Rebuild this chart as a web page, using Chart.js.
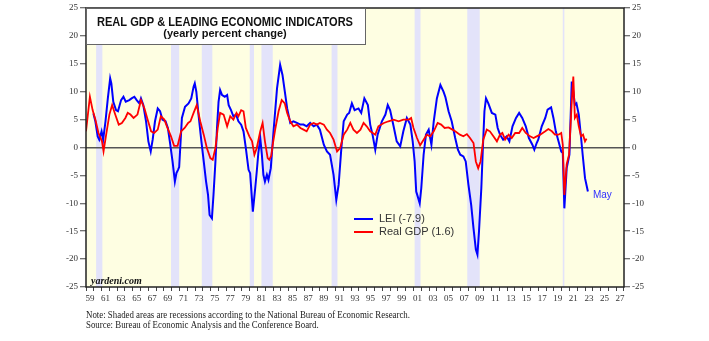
<!DOCTYPE html>
<html>
<head>
<meta charset="utf-8">
<script src="https://cdn.jsdelivr.net/npm/chart.js@4.4.0/dist/chart.umd.min.js"></script>
<style>
  html, body { margin: 0; padding: 0; background: #fff; }
  #wrap { width: 709px; height: 341px; position: relative; }
</style>
</head>
<body>
<div id="wrap"><canvas id="chart" width="709" height="341"></canvas></div>
<script>
// LEI, yearly % change
const leiYears = [1959.95,1960.2,1960.5,1960.7,1961.0,1961.2,1961.5,1961.8,1962.1,1962.25,1962.5,1962.85,1963.1,1963.5,1963.8,1964.1,1964.55,1964.85,1965.2,1965.5,1965.85,1966.05,1966.35,1966.7,1967.0,1967.3,1967.55,1967.85,1968.2,1968.5,1968.8,1969.2,1969.5,1969.75,1970.1,1970.4,1970.6,1970.8,1970.95,1971.1,1971.3,1971.7,1972.15,1972.5,1972.8,1972.95,1973.15,1973.45,1973.8,1974.1,1974.4,1974.65,1974.85,1975.15,1975.35,1975.6,1975.8,1976.0,1976.2,1976.45,1976.8,1977.1,1977.3,1977.6,1977.9,1978.25,1978.55,1978.9,1979.2,1979.5,1979.85,1980.05,1980.4,1980.7,1980.9,1981.1,1981.35,1981.55,1981.75,1981.95,1982.2,1982.4,1982.7,1983.05,1983.5,1983.9,1984.2,1984.5,1984.8,1985.2,1985.6,1986.05,1986.5,1986.9,1987.3,1987.75,1988.2,1988.6,1989.0,1989.5,1989.9,1990.3,1990.75,1991.1,1991.4,1991.75,1992.05,1992.5,1992.75,1993.1,1993.45,1993.95,1994.3,1994.7,1995.15,1995.45,1995.75,1996.1,1996.4,1996.95,1997.4,1997.7,1998.0,1998.45,1998.85,1999.3,1999.7,2000.15,2000.6,2000.9,2001.15,2001.35,2001.55,2001.8,2002.0,2002.3,2002.6,2002.95,2003.3,2003.6,2004.0,2004.45,2004.85,2005.1,2005.5,2005.9,2006.35,2006.7,2007.0,2007.4,2007.7,2008.05,2008.4,2008.7,2009.0,2009.2,2009.4,2009.7,2009.9,2010.1,2010.3,2010.6,2011.05,2011.5,2011.8,2012.1,2012.5,2012.95,2013.3,2013.7,2014.15,2014.55,2014.95,2015.4,2015.8,2016.25,2016.5,2016.8,2017.0,2017.45,2017.9,2018.2,2018.65,2018.95,2019.25,2019.6,2019.95,2020.15,2020.35,2020.65,2021.0,2021.3,2021.5,2021.7,2021.9,2022.2,2022.5,2022.7,2023.0,2023.37];
const leiValues = [6.1,4.7,2.0,1.4,2.9,1.4,4.7,8.8,12.4,11.5,8.2,6.7,6.5,8.5,9.1,8.2,8.5,8.8,9.1,8.5,7.9,8.8,7.6,4.7,1.1,-0.7,1.4,4.7,7.0,6.5,5.0,4.7,3.5,1.1,-2.5,-6.1,-4.6,-4.0,-3.5,0.3,5.3,7.3,7.9,8.8,10.9,11.5,10.0,5.6,1.1,-2.5,-6.1,-8.5,-12.1,-12.7,-8.5,-2.5,3.5,8.2,10.3,9.4,9.1,9.4,7.6,6.7,5.6,5.9,4.7,4.1,2.9,-0.1,-4.0,-4.6,-11.5,-7.3,-4.3,-1.0,1.7,-1.2,-4.9,-6.1,-4.9,-5.8,-3.7,2.9,10.6,14.8,13.0,10.0,7.0,4.4,4.7,4.4,4.1,4.1,3.8,4.4,3.8,4.1,3.2,0.5,-0.7,-1.3,-4.9,-9.4,-6.7,-0.1,4.7,5.9,6.2,7.9,6.7,7.0,6.2,8.8,7.6,4.1,2.3,-0.4,2.3,4.7,5.9,7.6,6.7,3.8,1.1,0.2,2.9,5.3,4.1,1.1,-2.5,-7.9,-8.8,-10.0,-7.3,-1.3,2.3,3.2,0.5,4.7,8.8,11.2,10.0,9.0,6.5,4.7,1.7,-0.4,-1.3,-1.6,-2.5,-6.7,-10.3,-14.5,-18.3,-19.2,-15.1,-7.3,-0.1,6.5,8.8,7.9,6.2,5.9,3.5,2.3,1.4,2.0,1.1,3.8,5.3,6.2,5.3,3.8,1.7,0.5,-0.4,0.8,1.4,3.8,5.3,6.8,7.2,5.3,2.9,1.1,-0.7,-1.0,-10.9,-3.7,-1.3,11.8,10.0,7.6,7.9,5.9,1.7,-1.3,-5.5,-7.9];

// Real GDP, yearly % change
const gdpYears = [1959.0,1959.5,1959.85,1960.2,1960.6,1961.05,1961.25,1961.55,1962.0,1962.35,1962.75,1963.2,1963.6,1964.05,1964.35,1964.7,1965.1,1965.6,1966.05,1966.5,1966.9,1967.35,1967.75,1968.2,1968.6,1969.05,1969.45,1969.9,1970.3,1970.75,1971.2,1971.65,1972.1,1972.4,1972.8,1973.2,1973.65,1974.1,1974.5,1974.95,1975.25,1975.6,1975.9,1976.2,1976.65,1977.1,1977.5,1977.9,1978.3,1978.55,1978.9,1979.2,1979.5,1979.95,1980.3,1980.6,1980.9,1981.35,1981.65,1981.95,1982.3,1982.5,1982.75,1982.95,1983.3,1983.7,1984.1,1984.5,1984.8,1985.2,1985.6,1986.05,1986.5,1986.9,1987.3,1987.75,1988.2,1988.6,1989.0,1989.5,1989.9,1990.3,1990.75,1991.2,1991.6,1992.05,1992.5,1992.9,1993.3,1993.75,1994.2,1994.6,1995.0,1995.45,1996.1,1996.5,1997.2,1997.8,1998.45,1999.1,1999.7,2000.4,2000.7,2001.0,2001.45,2001.85,2002.3,2002.7,2003.15,2003.6,2004.1,2004.55,2005.0,2005.5,2006.0,2006.35,2006.95,2007.4,2007.85,2008.25,2008.7,2009.0,2009.3,2009.6,2009.95,2010.4,2010.8,2011.25,2011.7,2012.1,2012.4,2012.75,2013.2,2013.6,2014.05,2014.55,2014.95,2015.4,2015.95,2016.4,2016.8,2017.25,2017.9,2018.3,2018.75,2019.15,2019.6,2019.95,2020.15,2020.35,2020.65,2020.95,2021.3,2021.5,2021.7,2021.95,2022.2,2022.5,2022.75,2023.0,2023.2];
const gdpValues = [2.9,9.1,6.7,5.0,2.6,1.1,-0.7,2.0,5.9,7.6,5.9,4.1,4.4,5.3,6.2,5.9,5.3,5.9,8.5,7.0,5.0,2.9,2.6,3.2,5.6,5.0,3.5,2.0,0.3,0.3,2.9,3.5,4.4,4.7,6.2,7.6,4.7,2.3,-0.1,-1.9,-2.2,-0.1,3.5,6.2,5.9,3.8,5.6,5.0,6.2,5.6,6.7,6.5,3.5,2.0,1.1,-1.3,-0.1,2.9,4.4,1.1,-1.9,-2.2,-1.5,0.5,3.5,6.5,8.5,7.9,6.2,4.7,3.8,4.1,3.5,3.2,2.9,4.1,4.4,4.1,4.4,4.1,3.2,2.6,1.4,-0.7,-0.1,2.3,3.2,4.4,3.2,2.6,3.2,4.4,3.8,2.9,2.3,3.8,4.4,4.7,5.0,4.7,5.0,5.0,5.3,3.5,1.7,0.4,1.4,2.3,2.0,2.9,4.4,4.1,3.5,3.6,3.2,2.9,2.3,2.0,2.4,1.7,0.8,-2.5,-3.7,-2.5,1.4,3.2,2.9,2.0,1.1,2.3,2.6,1.4,2.3,1.7,2.6,2.6,3.5,2.6,2.0,1.7,2.0,2.3,2.9,3.3,2.9,2.3,2.3,2.6,0.5,-8.5,-3.0,-1.3,8.2,12.7,5.3,5.9,3.8,2.0,2.3,1.1,1.6];

// NBER recessions [start, end]
const recessions = [[1960.3,1961.1],[1969.9,1970.95],[1973.85,1975.2],[1980.0,1980.55],[1981.5,1982.95],[1990.5,1991.25],[2001.15,2001.9],[2007.9,2009.5],[2020.15,2020.35]];

const xLabels = ['59','61','63','65','67','69','71','73','75','77','79','81','83','85','87','89','91','93','95','97','99','01','03','05','07','09','11','13','15','17','19','21','23','25','27'];
const yTicks = [-25,-20,-15,-10,-5,0,5,10,15,20,25];
const seriesNames = ['LEI (-7.9)', 'Real GDP (1.6)'];

const SERIF = '"Liberation Serif", "Times New Roman", serif';
const SANS = '"Liberation Sans", Arial, sans-serif';

function pts(xs, ys) { return xs.map((v, i) => ({ x: v, y: ys[i] })); }

const decor = {
  id: 'decor',
  beforeDraw(chart) {
    const { ctx, chartArea: a, scales: { x } } = chart;
    ctx.save();
    ctx.fillStyle = '#FEFEE2';
    ctx.fillRect(a.left, a.top, a.right - a.left, a.bottom - a.top);
    ctx.fillStyle = '#E3E3FA';
    recessions.forEach(r => {
      const x0 = x.getPixelForValue(r[0]);
      const x1 = x.getPixelForValue(r[1]);
      ctx.fillRect(x0, a.top, Math.max(1.5, x1 - x0), a.bottom - a.top);
    });
    ctx.restore();
  },
  afterDraw(chart) {
    const { ctx, chartArea: a, scales: { x, y } } = chart;
    ctx.save();
    // frame
    ctx.strokeStyle = '#222';
    ctx.lineWidth = 1.5;
    ctx.strokeRect(a.left, a.top, a.right - a.left, a.bottom - a.top);

    // title box
    ctx.fillStyle = '#fff';
    ctx.fillRect(a.left + 1, a.top + 1, 365 - a.left - 1, 44 - a.top - 1);
    ctx.strokeStyle = '#666';
    ctx.lineWidth = 1;
    ctx.strokeRect(a.left + 0.5, a.top + 0.5, 365 - a.left, 44 - a.top);
    ctx.fillStyle = '#111';
    ctx.textAlign = 'center';
    ctx.textBaseline = 'middle';
    ctx.font = 'bold 12px ' + SANS;
    const t1 = 'REAL GDP & LEADING ECONOMIC INDICATORS';
    const s1 = 256 / ctx.measureText(t1).width;
    ctx.save();
    ctx.translate(225, 22.5);
    ctx.scale(s1, 1);
    ctx.fillText(t1, 0, 0);
    ctx.restore();
    ctx.font = 'bold 11px ' + SANS;
    ctx.fillText('(yearly percent change)', 225, 33.5);

    // legend
    ctx.textAlign = 'left';
    ctx.font = '11px ' + SANS;
    const legendColors = ['#0000FF', '#FF0000'];
    seriesNames.forEach((n, i) => {
      const ly = 219 + i * 13;
      ctx.strokeStyle = legendColors[i];
      ctx.lineWidth = 2;
      ctx.beginPath();
      ctx.moveTo(354, ly);
      ctx.lineTo(373, ly);
      ctx.stroke();
      ctx.fillStyle = '#333';
      ctx.fillText(n, 379, ly);
    });

    // last-point label
    ctx.fillStyle = '#3030FF';
    ctx.font = '10px ' + SANS;
    const lx = x.getPixelForValue(leiYears[leiYears.length - 1]);
    const lyv = y.getPixelForValue(leiValues[leiValues.length - 1]);
    ctx.fillText('May', lx + 5, lyv + 4);

    // source mark
    ctx.fillStyle = '#111';
    ctx.textBaseline = 'alphabetic';
    ctx.font = 'italic bold 10px ' + SERIF;
    ctx.fillText('yardeni.com', 91, 284);

    // notes
    ctx.font = '10px ' + SERIF;
    ctx.fillStyle = '#222';
    ctx.textBaseline = 'middle';
    const n1 = 'Note: Shaded areas are recessions according to the National Bureau of Economic Research.';
    const n2 = 'Source: Bureau of Economic Analysis and the Conference Board.';
    const sn = 324 / ctx.measureText(n1).width;
    ctx.save();
    ctx.translate(86, 315);
    ctx.scale(sn, 1);
    ctx.fillText(n1, 0, 0);
    ctx.fillText(n2, 0, 10);
    ctx.restore();
    ctx.restore();
  }
};

const yAxis = (pos, w) => ({
  type: 'linear',
  position: pos,
  min: -25,
  max: 25,
  afterBuildTicks: s => { s.ticks = yTicks.map(v => ({ value: v })); },
  afterFit: s => { s.width = w; },
  border: { display: false },
  grid: {
    drawOnChartArea: pos === 'left',
    color: c => (c.tick && c.tick.value === 0) ? '#555' : 'rgba(0,0,0,0)',
    lineWidth: 1.5,
    tickColor: '#444',
    tickLength: 6,
    tickWidth: 1
  },
  ticks: {
    color: '#333',
    padding: 2,
    font: { family: SERIF, size: 9 }
  }
});

new Chart(document.getElementById('chart'), {
  type: 'scatter',
  data: {
    datasets: [
      {
        label: seriesNames[1],
        data: pts(gdpYears, gdpValues),
        showLine: true,
        borderColor: '#FF0000',
        borderWidth: 1.8,
        pointRadius: 0,
        tension: 0,
        yAxisID: 'y'
      },
      {
        label: seriesNames[0],
        data: pts(leiYears, leiValues),
        showLine: true,
        borderColor: '#0000FF',
        borderWidth: 2,
        pointRadius: 0,
        tension: 0,
        yAxisID: 'y'
      }
    ]
  },
  options: {
    responsive: false,
    animation: false,
    layout: { padding: { top: 8, left: 0, right: 0, bottom: 0 } },
    plugins: { legend: { display: false }, title: { display: false }, tooltip: { enabled: false } },
    scales: {
      x: {
        type: 'linear',
        min: 1959,
        max: 2028,
        afterBuildTicks: s => {
          const t = [];
          for (let yr = 1959; yr < 2028; yr++) t.push({ value: yr + 0.5 });
          s.ticks = t;
        },
        afterFit: s => { s.height = 54; },
        border: { display: false },
        grid: {
          offset: true,
          drawOnChartArea: false,
          tickColor: '#444',
          tickLength: 4,
          tickWidth: 1
        },
        ticks: {
          autoSkip: false,
          maxRotation: 0,
          padding: 2,
          color: '#333',
          font: { family: SERIF, size: 9 },
          callback: v => {
            const yr = Math.floor(v);
            const i = (yr - 1959) / 2;
            return Number.isInteger(i) ? xLabels[i] : '';
          }
        }
      },
      y: yAxis('left', 86),
      y2: yAxis('right', 85)
    }
  },
  plugins: [decor]
});
</script>
</body>
</html>
